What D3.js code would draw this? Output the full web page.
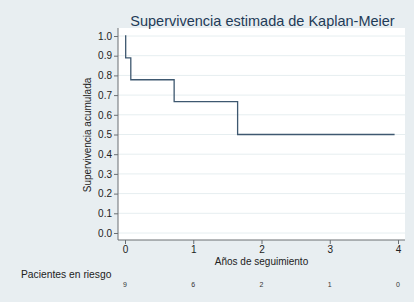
<!DOCTYPE html>
<html>
<head>
<meta charset="utf-8">
<script src="https://cdn.jsdelivr.net/npm/d3@7"></script>
<style>
  html, body { margin: 0; padding: 0; background: #fff; }
  text { font-family: "Liberation Sans", Arial, sans-serif; }
</style>
</head>
<body>
<div id="chart"></div>
<script>
// Kaplan-Meier step points (years, survival)
const stepTimes = [0, 0.01, 0.085, 0.72, 1.65, 3.95];
const stepSurv = [1.0, 0.889, 0.778, 0.667, 0.5, 0.5];
const xTicks = [0, 1, 2, 3, 4];
const yTicks = [0, 0.1, 0.2, 0.3, 0.4, 0.5, 0.6, 0.7, 0.8, 0.9, 1.0];
const riskTimes = [0, 1, 2, 3, 4];
const riskCounts = [9, 6, 2, 1, 0];

const W = 418, H = 304;
const plot = { left: 118, right: 405, top: 28, bottom: 240 };

const svg = d3.select("#chart").append("svg")
  .attr("width", W).attr("height", H);

// outer background
svg.append("rect")
  .attr("x", 0).attr("y", 0)
  .attr("width", 414).attr("height", 302)
  .attr("fill", "#e8eef1");

// plot region
svg.append("rect")
  .attr("x", plot.left).attr("y", plot.top)
  .attr("width", plot.right - plot.left).attr("height", plot.bottom - plot.top)
  .attr("fill", "#ffffff");

const x = d3.scaleLinear().domain([0, 4]).range([125, 398]);
const y = d3.scaleLinear().domain([0, 1]).range([233, 36]);

// grid
svg.append("g")
  .selectAll("line")
  .data(yTicks)
  .enter()
  .append("line")
  .attr("x1", plot.left).attr("x2", plot.right)
  .attr("y1", (d) => y(d)).attr("y2", (d) => y(d))
  .attr("stroke", "#e6eef0")
  .attr("stroke-width", 1);

// y axis
const yAxis = d3.axisLeft(y).tickValues(yTicks).tickFormat(d3.format(".1f")).tickSize(4).tickPadding(2);
const gy = svg.append("g").attr("transform", `translate(${plot.left},0)`).call(yAxis);
gy.select(".domain").attr("d", `M0,${plot.top}V${plot.bottom}`).attr("stroke", "#6a6f73");
gy.selectAll(".tick line").attr("stroke", "#6a6f73");
gy.selectAll(".tick text").attr("font-size", 10).attr("fill", "#222")
  .style("font-family", "'Liberation Sans', Arial, sans-serif");

// x axis
const xAxis = d3.axisBottom(x).tickValues(xTicks).tickFormat(d3.format("d")).tickSize(4).tickPadding(2);
const gx = svg.append("g").attr("transform", `translate(0,${plot.bottom})`).call(xAxis);
gx.select(".domain").attr("d", `M${plot.left},0H${plot.right}`).attr("stroke", "#6a6f73");
gx.selectAll(".tick line").attr("stroke", "#6a6f73");
gx.selectAll(".tick text").attr("font-size", 10).attr("fill", "#222")
  .style("font-family", "'Liberation Sans', Arial, sans-serif");

// KM curve
const line = d3.line()
  .x((d) => x(d[0]))
  .y((d) => y(d[1]))
  .curve(d3.curveStepAfter);
svg.append("path")
  .datum(stepTimes.map((t, i) => [t, stepSurv[i]]))
  .attr("d", line)
  .attr("fill", "none")
  .attr("stroke", "#3e5870")
  .attr("stroke-width", 1.3);

// title
svg.append("text")
  .attr("x", (plot.left + plot.right) / 2 + 1)
  .attr("y", 26)
  .attr("text-anchor", "middle")
  .attr("font-size", 14.5)
  .attr("fill", "#1f3b57")
  .text("Supervivencia estimada de Kaplan-Meier");

// axis titles
svg.append("text")
  .attr("transform", `translate(91,${(plot.top + plot.bottom) / 2 + 1}) rotate(-90)`)
  .attr("text-anchor", "middle")
  .attr("font-size", 10)
  .attr("fill", "#222")
  .text("Supervivencia acumulada");

svg.append("text")
  .attr("x", (plot.left + plot.right) / 2)
  .attr("y", 265)
  .attr("text-anchor", "middle")
  .attr("font-size", 10)
  .attr("fill", "#222")
  .text("Años de seguimiento");

// number at risk
svg.append("text")
  .attr("x", 21)
  .attr("y", 278)
  .attr("font-size", 10.3)
  .attr("fill", "#222")
  .text("Pacientes en riesgo");

svg.append("g")
  .selectAll("text")
  .data(riskTimes)
  .enter()
  .append("text")
  .attr("x", (d) => x(d))
  .attr("y", 287)
  .attr("text-anchor", "middle")
  .attr("font-size", 7)
  .attr("fill", "#333")
  .text((d, i) => riskCounts[i]);
</script>
</body>
</html>
